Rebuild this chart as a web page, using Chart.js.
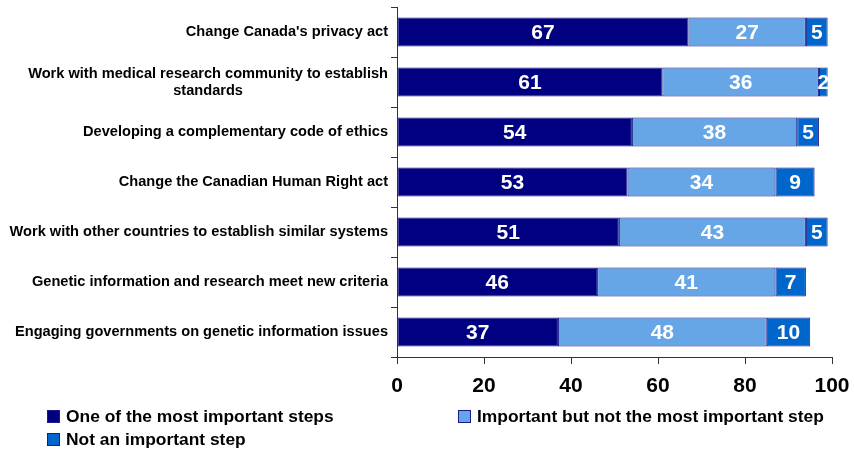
<!DOCTYPE html>
<html>
<head>
<meta charset="utf-8">
<script src="https://cdn.jsdelivr.net/npm/chart.js@4/dist/chart.umd.min.js"></script>
<style>
  html, body { margin: 0; padding: 0; background: #fff; }
  #wrap { width: 854px; height: 452px; position: relative; }
</style>
</head>
<body>
<div id="wrap"><canvas id="c" width="854" height="452"></canvas></div>
<script>
// Survey categories (multi-line entries are arrays)
const categories = [
  "Change Canada's privacy act",
  ["Work with medical research community to establish", "standards"],
  "Developing a complementary code of ethics",
  "Change the Canadian Human Right act",
  "Work with other countries to establish similar systems",
  "Genetic information and research meet new criteria",
  "Engaging governments on genetic information issues"
];

// Percentages per response
const mostImportant = [67, 61, 54, 53, 51, 46, 37];
const importantNotMost = [27, 36, 38, 34, 43, 41, 48];
const notImportant = [5, 2, 5, 9, 5, 7, 10];

const seriesNames = [
  "One of the most important steps",
  "Important but not the most important step",
  "Not an important step"
];

const xTicks = [0, 20, 40, 60, 80, 100];

const colors = ["#000080", "#66A6E6", "#0066CC"];
const edge = "#1A1A8C";
const axisColor = "#333333";

// Category labels drawn beside the y axis; extra lines centred under the first
const categoryLabels = {
  id: 'categoryLabels',
  afterDraw(chart) {
    const ctx = chart.ctx;
    const y = chart.scales.y;
    const right = chart.chartArea.left - 9;
    const lh = 17;
    ctx.save();
    ctx.font = 'bold 14.6px "Liberation Sans", Arial, sans-serif';
    ctx.fillStyle = '#000';
    ctx.textBaseline = 'middle';
    chart.data.labels.forEach((lab, i) => {
      const lines = Array.isArray(lab) ? lab : [lab];
      const cy = y.getPixelForValue(i);
      const top = cy - (lines.length - 1) * lh / 2;
      const w0 = ctx.measureText(lines[0]).width;
      const mid = right - w0 / 2;
      lines.forEach((ln, k) => {
        if (k === 0) {
          ctx.textAlign = 'right';
          ctx.fillText(ln, right, top);
        } else {
          ctx.textAlign = 'center';
          ctx.fillText(ln, mid, top + k * lh);
        }
      });
    });
    ctx.restore();
  }
};

// Values printed in the middle of each segment
const segmentValues = {
  id: 'segmentValues',
  afterDatasetsDraw(chart) {
    const ctx = chart.ctx;
    ctx.save();
    ctx.font = 'bold 21px "Liberation Sans", Arial, sans-serif';
    ctx.fillStyle = '#fff';
    ctx.textAlign = 'center';
    ctx.textBaseline = 'middle';
    chart.data.datasets.forEach((ds, di) => {
      chart.getDatasetMeta(di).data.forEach((bar, i) => {
        const cx = (bar.x + bar.base) / 2;
        ctx.fillText(String(ds.data[i]), cx, bar.y + 1);
      });
    });
    ctx.restore();
  }
};

// Two-column legend below the axis
const bottomLegend = {
  id: 'bottomLegend',
  afterDraw(chart) {
    const ctx = chart.ctx;
    const slots = [
      { x: 47, y: 416.5 },
      { x: 458, y: 416.5 },
      { x: 47, y: 439.5 }
    ];
    ctx.save();
    ctx.font = 'bold 17.4px "Liberation Sans", Arial, sans-serif';
    ctx.textAlign = 'left';
    ctx.textBaseline = 'middle';
    chart.data.datasets.forEach((ds, i) => {
      const s = slots[i];
      ctx.fillStyle = ds.backgroundColor;
      ctx.fillRect(s.x, s.y - 6.5, 13, 13);
      ctx.strokeStyle = edge;
      ctx.lineWidth = 1;
      ctx.strokeRect(s.x + 0.5, s.y - 6, 12, 12);
      ctx.fillStyle = '#000';
      ctx.fillText(ds.label, s.x + 19, s.y + 1);
    });
    ctx.restore();
  }
};

const datasets = [mostImportant, importantNotMost, notImportant].map((vals, i) => ({
  label: seriesNames[i],
  data: vals,
  backgroundColor: colors[i],
  borderColor: edge,
  borderWidth: 1,
  borderSkipped: false,
  barPercentage: 0.58,
  categoryPercentage: 1.0
}));

new Chart(document.getElementById('c'), {
  type: 'bar',
  data: { labels: categories, datasets },
  options: {
    indexAxis: 'y',
    responsive: false,
    animation: false,
    devicePixelRatio: 1,
    layout: { padding: { left: 0, right: 22, top: 7, bottom: 55 } },
    plugins: {
      legend: { display: false },
      tooltip: { enabled: false }
    },
    scales: {
      x: {
        stacked: true,
        min: 0,
        max: 100,
        afterBuildTicks(scale) {
          scale.ticks = xTicks.map(v => ({ value: v }));
        },
        ticks: {
          color: '#000',
          padding: 10,
          font: { family: '"Liberation Sans", Arial, sans-serif', size: 21, weight: 'bold' },
          maxRotation: 0
        },
        grid: { drawOnChartArea: false, drawTicks: true, tickLength: 7, color: axisColor },
        border: { display: true, color: axisColor, width: 1 },
        afterFit(scale) {
          scale.height = 40;
          scale.paddingLeft = 0;
          scale.paddingRight = 0;
        }
      },
      y: {
        stacked: true,
        ticks: { display: false },
        grid: { drawOnChartArea: false, drawTicks: true, tickLength: 6, color: axisColor, offset: true },
        border: { display: true, color: axisColor, width: 1 },
        afterFit(scale) {
          scale.width = 397;
          scale.paddingTop = 0;
          scale.paddingBottom = 0;
        }
      }
    }
  },
  plugins: [categoryLabels, segmentValues, bottomLegend]
});
</script>
</body>
</html>
